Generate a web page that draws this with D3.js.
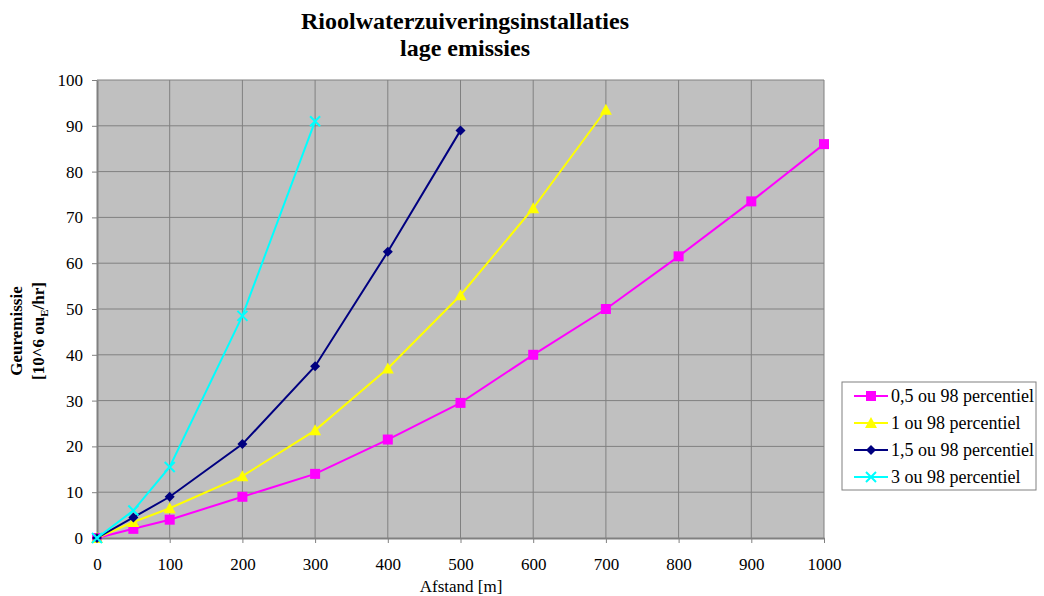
<!DOCTYPE html>
<html>
<head>
<meta charset="utf-8">
<script src="https://cdn.jsdelivr.net/npm/d3@7/dist/d3.min.js"></script>
<style>
  body { margin: 0; background: #fff; }
  text { font-family: "Liberation Serif", "Times New Roman", serif; fill: #000; }
</style>
</head>
<body>
<svg id="chart" width="1044" height="596"></svg>
<script>
// data
var xTicks = [0, 100, 200, 300, 400, 500, 600, 700, 800, 900, 1000];
var yTicks = [0, 10, 20, 30, 40, 50, 60, 70, 80, 90, 100];

var afstand05 = [0, 50, 100, 200, 300, 400, 500, 600, 700, 800, 900, 1000];
var emissie05 = [0, 2, 4, 9, 14, 21.5, 29.5, 40, 50, 61.5, 73.5, 86];

var afstand1 = [0, 50, 100, 200, 300, 400, 500, 600, 700];
var emissie1 = [0, 3.5, 6.5, 13.5, 23.5, 37, 53, 72, 93.5];

var afstand15 = [0, 50, 100, 200, 300, 400, 500];
var emissie15 = [0, 4.5, 9, 20.5, 37.5, 62.5, 89];

var afstand3 = [0, 50, 100, 200, 300];
var emissie3 = [0, 6, 15.5, 48.5, 91];

var seriesNames = ["0,5 ou 98 percentiel", "1 ou 98 percentiel", "1,5 ou 98 percentiel", "3 ou 98 percentiel"];

var series = [
    {name: seriesNames[0], xs: afstand05, ys: emissie05, color: "#ff00ff", marker: "square"},
    {name: seriesNames[1], xs: afstand1, ys: emissie1, color: "#ffff00", marker: "triangle"},
    {name: seriesNames[2], xs: afstand15, ys: emissie15, color: "#000080", marker: "diamond"},
    {name: seriesNames[3], xs: afstand3, ys: emissie3, color: "#00ffff", marker: "cross"}
];

var svg = d3.select("#chart");
var serif = "'Liberation Serif', 'Times New Roman', serif";

// plot area
var plotLeft = 97, plotRight = 824, plotTop = 80, plotBottom = 538;

var x = d3.scaleLinear().domain([0, 1000]).range([plotLeft, plotRight]);
var y = d3.scaleLinear().domain([0, 100]).range([plotBottom, plotTop]);

svg.append("rect")
    .attr("x", plotLeft).attr("y", plotTop)
    .attr("width", plotRight - plotLeft).attr("height", plotBottom - plotTop)
    .attr("fill", "#c0c0c0");

// gridlines
svg.append("g").selectAll("line")
    .data(xTicks.slice(1))
    .enter().append("line")
    .attr("x1", function(d){ return x(d); }).attr("x2", function(d){ return x(d); })
    .attr("y1", plotTop).attr("y2", plotBottom)
    .attr("stroke", "#808080").attr("stroke-width", 1);

svg.append("g").selectAll("line")
    .data(yTicks.slice(1))
    .enter().append("line")
    .attr("x1", plotLeft).attr("x2", plotRight)
    .attr("y1", function(d){ return y(d); }).attr("y2", function(d){ return y(d); })
    .attr("stroke", "#808080").attr("stroke-width", 1);

// axes
var xAxis = svg.append("g")
    .attr("transform", "translate(0," + plotBottom + ")")
    .call(d3.axisBottom(x).tickValues(xTicks).tickFormat(d3.format("d")).tickSize(5).tickPadding(15).tickSizeOuter(0));
var yAxis = svg.append("g")
    .attr("transform", "translate(" + plotLeft + ",0)")
    .call(d3.axisLeft(y).tickValues(yTicks).tickFormat(d3.format("d")).tickSize(5).tickPadding(9).tickSizeOuter(0));

[xAxis, yAxis].forEach(function(ax){
    ax.attr("font-family", serif);
    ax.select(".domain").attr("stroke", "#808080").attr("stroke-width", 2);
    ax.selectAll(".tick line").attr("stroke", "#808080");
    ax.selectAll(".tick text")
        .style("font-family", serif)
        .style("font-size", "17px").attr("fill", "#000");
});

// marker shapes
function drawMarker(g, type, color, cx, cy){
    if(type === "square"){
        g.append("rect").attr("x", cx - 5).attr("y", cy - 5).attr("width", 10).attr("height", 10)
            .attr("fill", color);
    }
    else if(type === "triangle"){
        g.append("path").attr("d", "M" + cx + "," + (cy - 6) + "L" + (cx + 6) + "," + (cy + 5) + "L" + (cx - 6) + "," + (cy + 5) + "Z")
            .attr("fill", color);
    }
    else if(type === "diamond"){
        g.append("path").attr("d", "M" + cx + "," + (cy - 5) + "L" + (cx + 5) + "," + cy + "L" + cx + "," + (cy + 5) + "L" + (cx - 5) + "," + cy + "Z")
            .attr("fill", color);
    }
    else {
        g.append("path").attr("d", "M" + (cx - 5) + "," + (cy - 5) + "L" + (cx + 5) + "," + (cy + 5) + "M" + (cx + 5) + "," + (cy - 5) + "L" + (cx - 5) + "," + (cy + 5))
            .attr("stroke", color).attr("stroke-width", 2).attr("fill", "none");
    }
}

var line = d3.line()
    .x(function(d){ return x(d[0]); })
    .y(function(d){ return y(d[1]); });

series.forEach(function(s){
    var pts = s.xs.map(function(v, i){ return [v, s.ys[i]]; });
    var g = svg.append("g");
    g.append("path")
        .datum(pts)
        .attr("d", line)
        .attr("fill", "none")
        .attr("stroke", s.color)
        .attr("stroke-width", 2);
    pts.forEach(function(p){
        drawMarker(g, s.marker, s.color, x(p[0]), y(p[1]));
    });
});

// title
svg.append("text").attr("x", 465).attr("y", 29).attr("text-anchor", "middle")
    .style("font-size", "24px").style("font-weight", "bold")
    .text("Rioolwaterzuiveringsinstallaties");
svg.append("text").attr("x", 465).attr("y", 56).attr("text-anchor", "middle")
    .style("font-size", "24px").style("font-weight", "bold")
    .text("lage emissies");

// axis titles
svg.append("text").attr("x", 461).attr("y", 592).attr("text-anchor", "middle")
    .style("font-size", "17px")
    .text("Afstand [m]");

var yl = svg.append("text")
    .attr("transform", "translate(22,331) rotate(-90)")
    .attr("text-anchor", "middle")
    .style("font-size", "17px").style("font-weight", "bold")
    .text("Geuremissie");
var yl2 = svg.append("text")
    .attr("transform", "translate(44,331) rotate(-90)")
    .attr("text-anchor", "middle")
    .style("font-size", "17px").style("font-weight", "bold");
yl2.append("tspan").text("[10^6 ou");
yl2.append("tspan").attr("dy", 4).style("font-size", "11px").text("E");
yl2.append("tspan").attr("dy", -4).text("/hr]");

// legend
var legend = svg.append("g").attr("transform", "translate(842,382)");
legend.append("rect").attr("x", 0).attr("y", 0).attr("width", 194).attr("height", 108)
    .attr("fill", "#fff").attr("stroke", "#808080").attr("stroke-width", 1);
series.forEach(function(s, i){
    var ly = 14 + i * 27;
    legend.append("line").attr("x1", 12).attr("x2", 46).attr("y1", ly).attr("y2", ly)
        .attr("stroke", s.color).attr("stroke-width", 2);
    drawMarker(legend, s.marker, s.color, 29, ly);
    legend.append("text").attr("x", 49).attr("y", ly + 6)
        .style("font-size", "18px")
        .text(s.name);
});
</script>
</body>
</html>
